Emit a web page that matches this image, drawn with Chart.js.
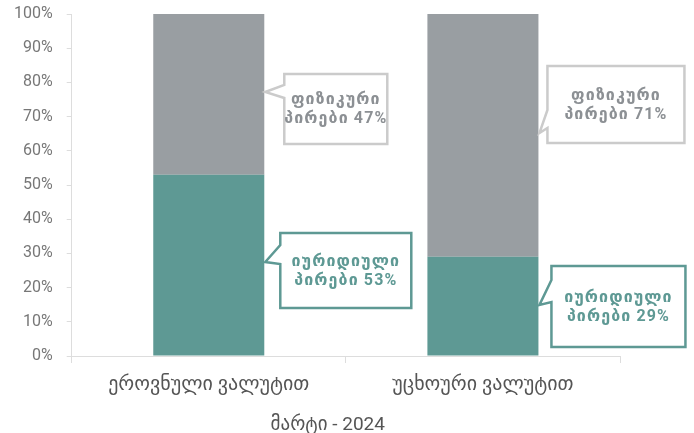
<!DOCTYPE html>
<html>
<head>
<meta charset="utf-8">
<script src="https://cdn.jsdelivr.net/npm/chart.js@4/dist/chart.umd.min.js"></script>
<style>
  html,body{margin:0;padding:0;background:#fff;}
  #wrap{width:694px;height:433px;position:relative;}
</style>
</head>
<body>
<div id="wrap"><canvas id="c" width="694" height="433"></canvas></div>
<script>
const categories = ["ეროვნული ვალუტით", "უცხოური ვალუტით"];
const seriesNames = ["იურიდიული პირები", "ფიზიკური პირები"];
const legalValues = [53, 29];
const physicalValues = [47, 71];
const yTicks = [0, 10, 20, 30, 40, 50, 60, 70, 80, 90, 100];
const xTitle = "მარტი - 2024";

const TEAL = "#5e9994";
const GREY = "#999ea2";
const TEAL_BORDER = "#5e9994";
const GREY_BORDER = "#cbcbcb";
const FONT = "Roboto, 'DejaVu Sans', sans-serif";

// callout geometry (px relative to bar right edge / chart area top)
const callouts = [
  {ds:1, idx:0, dx:20, w:103, top:60, h:70, tipY:78, baseTop:71, baseBot:84, color:GREY_BORDER, text:"#8c9094"},
  {ds:0, idx:0, dx:16, w:131, top:219, h:75, tipY:248, baseTop:231, baseBot:250, color:TEAL_BORDER, text:TEAL},
  {ds:1, idx:1, dx:9, w:137, top:52, h:77, tipY:119, baseTop:96, baseBot:114, color:GREY_BORDER, text:"#8c9094"},
  {ds:0, idx:1, dx:13, w:134, top:252, h:81, tipY:291, baseTop:266, baseBot:288, color:TEAL_BORDER, text:TEAL}
];

const calloutPlugin = {
  id: 'callouts',
  afterDatasetsDraw(chart) {
    const ctx = chart.ctx;
    const area = chart.chartArea;
    const top0 = area.top;
    callouts.forEach(c => {
      const el = chart.getDatasetMeta(c.ds).data[c.idx];
      const right = el.x + el.width / 2;
      const left = right + c.dx;
      const t = top0 + c.top;
      const b = t + c.h;
      const r = left + c.w;
      ctx.save();
      ctx.lineWidth = 2.5;
      ctx.strokeStyle = c.color;
      ctx.fillStyle = "#ffffff";
      ctx.lineJoin = "miter";
      ctx.beginPath();
      ctx.moveTo(left, t);
      ctx.lineTo(r, t);
      ctx.lineTo(r, b);
      ctx.lineTo(left, b);
      ctx.lineTo(left, top0 + c.baseBot);
      ctx.lineTo(right + 1, top0 + c.tipY);
      ctx.lineTo(left, top0 + c.baseTop);
      ctx.closePath();
      ctx.fill();
      ctx.stroke();
      const vals = c.ds === 0 ? legalValues : physicalValues;
      const words = seriesNames[c.ds].split(" ");
      const line1 = words[0];
      const line2 = words.slice(1).join(" ") + " " + vals[c.idx] + "%";
      ctx.fillStyle = c.text;
      ctx.font = "bold 16px " + FONT;
      try { ctx.letterSpacing = "1.1px"; } catch (e) {}
      ctx.textAlign = "center";
      ctx.textBaseline = "middle";
      const cx = (left + r) / 2;
      const cy = (t + b) / 2;
      ctx.fillText(line1, cx, cy - 9);
      ctx.fillText(line2, cx, cy + 10);
      ctx.restore();
    });
    // axis title (drawn here so it can sit where the reference has it)
    const xs = chart.scales.x;
    ctx.save();
    ctx.fillStyle = "#555555";
    ctx.font = "19px " + FONT;
    ctx.textAlign = "center";
    ctx.textBaseline = "middle";
    ctx.fillText(xTitle, area.left + (area.right - area.left) * 0.467, xs.bottom - 8);
    ctx.restore();
  }
};

new Chart(document.getElementById('c'), {
  type: 'bar',
  data: {
    labels: categories,
    datasets: [
      {label: seriesNames[0], data: legalValues, backgroundColor: TEAL, barPercentage: 1, categoryPercentage: 0.405},
      {label: seriesNames[1], data: physicalValues, backgroundColor: GREY, barPercentage: 1, categoryPercentage: 0.405}
    ]
  },
  options: {
    responsive: false,
    animation: false,
    devicePixelRatio: 1,
    layout: {padding: {top: 0, right: 74, left: 0, bottom: 0}},
    plugins: {legend: {display: false}, tooltip: {enabled: false}},
    scales: {
      x: {
        stacked: true,
        grid: {display: true, drawOnChartArea: false, drawTicks: true, tickLength: 7, color: "#dddddd", offset: true},
        border: {display: true, color: "#dddddd"},
        ticks: {color: "#555555", font: {family: FONT, size: 20, lineHeight: 1.2}, padding: 10},
        title: {display: true, text: xTitle, color: "rgba(0,0,0,0)", font: {family: FONT, size: 20, lineHeight: 1.2}, padding: {top: 2, bottom: 0}}
      },
      y: {
        stacked: true,
        min: 0, max: 100,
        afterBuildTicks(axis) { axis.ticks = yTicks.map(v => ({value: v})); },
        afterFit(axis) { axis.paddingTop = 14; axis.paddingBottom = 10; },
        grid: {display: true, drawOnChartArea: false, drawTicks: true, tickLength: 5, color: "#dddddd"},
        border: {display: true, color: "#dddddd"},
        ticks: {color: "#777777", font: {family: FONT, size: 16, lineHeight: 1.2}, padding: 14, callback: v => v + "%"}
      }
    }
  },
  plugins: [calloutPlugin]
});
</script>
</body>
</html>
